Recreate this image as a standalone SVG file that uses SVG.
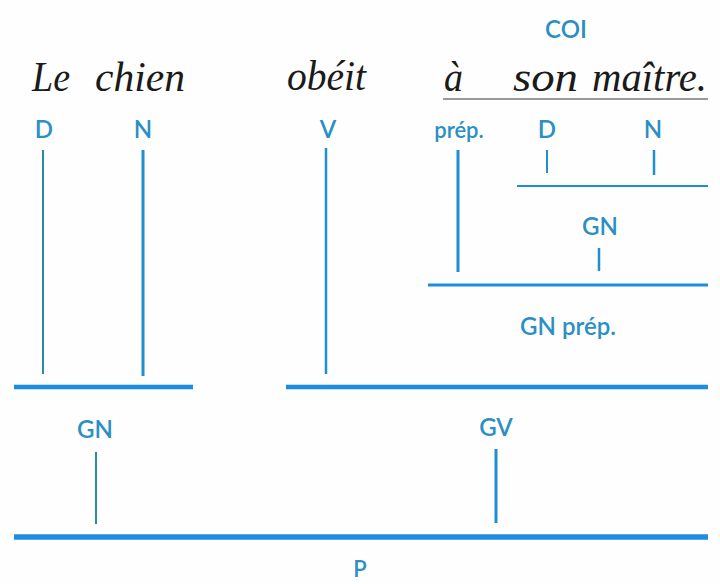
<svg xmlns="http://www.w3.org/2000/svg" width="720" height="584" viewBox="0 0 720 584">
<style>
.w{font-family:"Liberation Serif",serif;font-style:italic;font-size:42px;fill:#1a1a1a}
.l{font-family:Lato,"Open Sans",sans-serif;font-size:24px;font-weight:600;fill:#2a8fc4;text-anchor:middle}
.v{stroke:#1f8fd0;stroke-width:2.5;fill:none}
.h{stroke:#1c8de3;fill:none}
</style>
<rect width="720" height="584" fill="#fefefe"/>
<g id="sentence">
<text class="w" x="32" y="91" textLength="38" lengthAdjust="spacingAndGlyphs">Le</text>
<text class="w" x="95" y="91" textLength="90" lengthAdjust="spacingAndGlyphs">chien</text>
<text class="w" x="287" y="90" textLength="79" lengthAdjust="spacingAndGlyphs">obéit</text>
<text class="w" x="444" y="91" textLength="19" lengthAdjust="spacingAndGlyphs">à</text>
<text class="w" x="513" y="91" textLength="65" lengthAdjust="spacingAndGlyphs">son</text>
<text class="w" x="592" y="91" textLength="115" lengthAdjust="spacingAndGlyphs">maître.</text>
<line x1="443" y1="99" x2="708" y2="99" stroke="#777" stroke-width="1.5"/>
</g>
<g id="coi"><text class="l" x="566" y="38">COI</text></g>
<g id="d1"><text class="l" x="44" y="138">D</text></g>
<g id="n1"><text class="l" x="143" y="138">N</text></g>
<g id="v"><text class="l" x="328" y="138">V</text></g>
<g id="prep"><text class="l" x="459" y="138" style="font-size:22px">prép.</text></g>
<g id="d2"><text class="l" x="547" y="138">D</text></g>
<g id="n2"><text class="l" x="653" y="138">N</text></g>
<g id="gn2"><text class="l" x="600" y="235">GN</text></g>
<g id="gnprep"><text class="l" x="568" y="335">GN prép.</text></g>
<g id="gn1"><text class="l" x="95" y="438">GN</text></g>
<g id="gv"><text class="l" x="496" y="436">GV</text></g>
<g id="p"><text class="l" x="360" y="577" style="font-size:22px">P</text></g>
<g id="connectors">
<line class="v" x1="43" y1="150" x2="43" y2="374" style="stroke:#2a8aa8;stroke-width:2"/>
<line class="v" x1="143" y1="150" x2="143" y2="376" style="stroke-width:3"/>
<line class="v" x1="326" y1="148" x2="326" y2="374"/>
<line class="v" x1="458" y1="150" x2="458" y2="272" style="stroke-width:3"/>
<line class="v" x1="547" y1="150" x2="547" y2="173" style="stroke-width:2"/>
<line class="v" x1="654" y1="150" x2="654" y2="175" style="stroke-width:2.5"/>
<line class="h" x1="517" y1="186" x2="708" y2="186" stroke-width="2"/>
<line class="v" x1="599" y1="248" x2="599" y2="271"/>
<line class="h" x1="428" y1="285" x2="708" y2="285" stroke-width="3"/>
<line class="h" x1="14" y1="387" x2="193" y2="387" stroke-width="4.5"/>
<line class="h" x1="286" y1="387" x2="708" y2="387" stroke-width="4.5"/>
<line class="v" x1="96" y1="452" x2="96" y2="524" style="stroke:#2a8aa8;stroke-width:2"/>
<line class="v" x1="496" y1="449" x2="496" y2="523" style="stroke-width:3"/>
<line class="h" x1="14" y1="537" x2="708" y2="537" stroke-width="5.5"/>
</g>
</svg>
